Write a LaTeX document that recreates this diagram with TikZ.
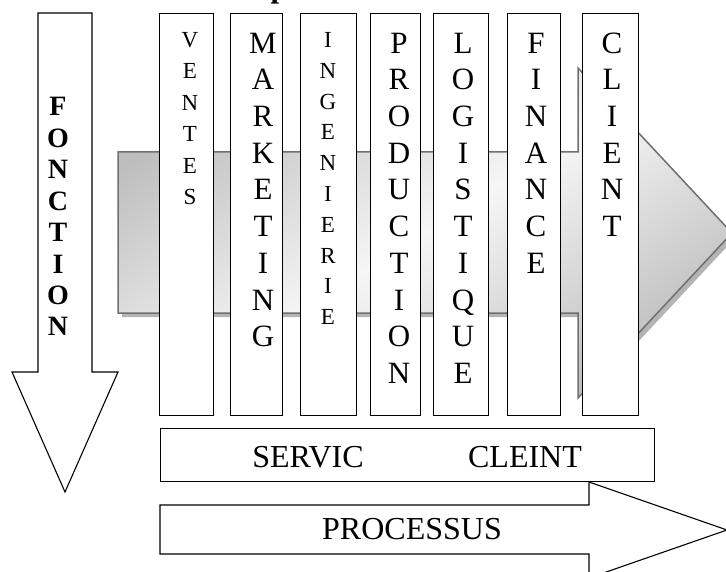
\documentclass[tikz,border=0pt]{standalone}
\usepackage{fontspec}
\setmainfont{Liberation Serif}
\definecolor{arrstroke}{HTML}{707070}
\definecolor{arrshadow}{HTML}{B4B4B4}
\definecolor{arrdark}{HTML}{BEBEBE}
\definecolor{arrlight}{HTML}{F6F6F6}
\begin{document}
\begin{tikzpicture}[x=1pt,y=-1pt,
  box/.style={draw=black,line width=1.1pt,fill=white},
  colbox/.style={box,inner sep=0pt,anchor=north west,minimum height=402pt},
  bigletter/.style={font=\fontsize{31}{31}\selectfont,anchor=base,inner sep=0pt},
  smallletter/.style={font=\fontsize{23}{23}\selectfont,anchor=base,inner sep=0pt},
  boldletter/.style={font=\bfseries\fontsize{28}{28}\selectfont,anchor=base,inner sep=0pt},
  label/.style={font=\fontsize{32}{32}\selectfont,anchor=base,inner sep=0pt}]
\useasboundingbox (0,0) rectangle (726,572);

% cut-off title glyph
\node[font=\bfseries\fontsize{31}{31}\selectfont,anchor=base west,inner sep=0pt] (ttl) at (270.5,-2.6) {p};

% gray process arrow: shadow and body
\fill[arrshadow] (122,156) -- (582,156) -- (582,72) -- (736,237) -- (582,402) -- (582,317) -- (122,317) -- cycle;
\path[top color=arrdark,bottom color=arrdark,middle color=arrlight,shading angle=33,draw=arrstroke,line width=1.5pt,line join=miter]
  (118,152) -- (578,152) -- (578,68) -- (732,233) -- (578,398) -- (578,313) -- (118,313) -- cycle;

% FONCTION arrow
\draw[box,line join=miter] (38,13) -- (92,13) -- (92,372) -- (118,372) -- (65,492) -- (12,372) -- (38,372) -- cycle;
\foreach \ch [count=\i from 0] in {F,O,N,C,T,I,O,N}
  \node[boldletter] (fon\i) at (58,116+31.4*\i) {\ch};

% function columns
\node[colbox,minimum width=54pt] (cven) at (159,13) {};
\node[colbox,minimum width=52pt] (cmar) at (230,13) {};
\node[colbox,minimum width=56pt] (cing) at (300,13) {};
\node[colbox,minimum width=50pt] (cpro) at (370,13) {};
\node[colbox,minimum width=55pt] (clog) at (433,13) {};
\node[colbox,minimum width=53pt] (cfin) at (507,13) {};
\node[colbox,minimum width=56pt] (ccli) at (582,13) {};

\foreach \ch [count=\i from 0] in {V,E,N,T,E,S}
  \node[smallletter] (ven\i) at (190,47.6+31.4*\i) {\ch};
\foreach \ch [count=\i from 0] in {M,A,R,K,E,T,I,N,G}
  \node[bigletter] (mar\i) at (263,53.2+36.7*\i) {\ch};
\foreach \ch [count=\i from 0] in {I,N,G,E,N,I,E,R,I,E}
  \node[smallletter] (ing\i) at (328,47.6+30.8*\i) {\ch};
\foreach \ch [count=\i from 0] in {P,R,O,D,U,C,T,I,O,N}
  \node[bigletter] (pro\i) at (399,53.2+36.7*\i) {\ch};
\foreach \ch [count=\i from 0] in {L,O,G,I,S,T,I,Q,U,E}
  \node[bigletter] (log\i) at (463,53.2+36.7*\i) {\ch};
\foreach \ch [count=\i from 0] in {F,I,N,A,N,C,E}
  \node[bigletter] (fin\i) at (536,53.2+36.7*\i) {\ch};
\foreach \ch [count=\i from 0] in {C,L,I,E,N,T}
  \node[bigletter] (cli\i) at (612,53.2+36.7*\i) {\ch};

% service client box
\node[box,inner sep=0pt,anchor=north west,minimum width=494pt,minimum height=53pt] (svc) at (160,428) {};
\node[label] (servic) at (308,467.5) {SERVIC};
\node[label] (cleint) at (525,467.5) {CLEINT};

% PROCESSUS arrow
\draw[box,line join=miter] (160,505) -- (589,505) -- (589,482) -- (727,530) -- (589,578) -- (589,554) -- (160,554) -- cycle;
\node[label] (proc) at (412,539.5) {PROCESSUS};
\end{tikzpicture}
\end{document}
